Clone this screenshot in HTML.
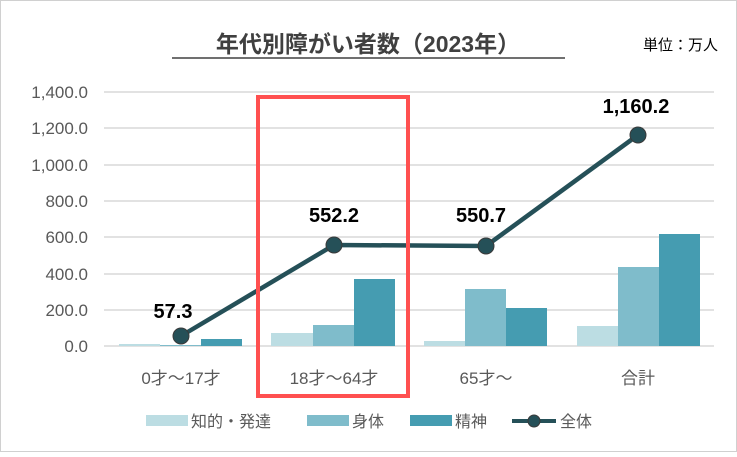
<!DOCTYPE html>
<html><head><meta charset="utf-8"><style>
body{margin:0;background:#fff}
text{font-family:"Liberation Sans","Noto Sans CJK JP",sans-serif}
</style></head><body>
<svg width="737" height="452" xmlns="http://www.w3.org/2000/svg">
<rect x="0.5" y="0.5" width="736" height="451" fill="#fff" stroke="#d0d0d0"/>
<text x="368" y="52" text-anchor="middle" font-size="23" font-weight="bold" fill="#404040">年代別障がい者数（2023年）</text>
<line x1="172" y1="58" x2="565" y2="58" stroke="#404040" stroke-width="1.5"/>
<text x="718" y="50" text-anchor="end" font-size="15" fill="#000">単位：万人</text>
<g stroke="#d9d9d9" stroke-width="1.5">
<line x1="104" x2="714" y1="92" y2="92"/><line x1="104" x2="714" y1="128" y2="128"/>
<line x1="104" x2="714" y1="165" y2="165"/><line x1="104" x2="714" y1="201" y2="201"/>
<line x1="104" x2="714" y1="237" y2="237"/><line x1="104" x2="714" y1="274" y2="274"/>
<line x1="104" x2="714" y1="310" y2="310"/><line x1="104" x2="714" y1="346" y2="346"/>
</g>
<g font-size="17" fill="#595959" text-anchor="end">
<text x="88" y="98">1,400.0</text><text x="88" y="134">1,200.0</text><text x="88" y="171">1,000.0</text>
<text x="88" y="207">800.0</text><text x="88" y="243">600.0</text><text x="88" y="280">400.0</text>
<text x="88" y="316">200.0</text><text x="88" y="352">0.0</text>
</g>
<g>
<rect x="119" y="344" width="41" height="2" fill="#bcdde3"/>
<rect x="160" y="345" width="41" height="1" fill="#7fbccb"/>
<rect x="201" y="339" width="41" height="7" fill="#459cb1"/>
<rect x="271" y="333" width="42" height="13" fill="#bcdde3"/>
<rect x="313" y="325" width="41" height="21" fill="#7fbccb"/>
<rect x="354" y="279" width="41" height="67" fill="#459cb1"/>
<rect x="424" y="341" width="41" height="5" fill="#bcdde3"/>
<rect x="465" y="289" width="41" height="57" fill="#7fbccb"/>
<rect x="506" y="308" width="41" height="38" fill="#459cb1"/>
<rect x="577" y="326" width="41" height="20" fill="#bcdde3"/>
<rect x="618" y="267" width="41" height="79" fill="#7fbccb"/>
<rect x="659" y="234" width="41" height="112" fill="#459cb1"/>
</g>
<polyline points="181,336 334,245 486,246 638,135" fill="none" stroke="#255058" stroke-width="4.5"/>
<g fill="#255058" stroke="#3a3a3a" stroke-width="1">
<circle cx="181" cy="336" r="8"/><circle cx="334" cy="245" r="8"/><circle cx="486" cy="246" r="8"/><circle cx="638" cy="135" r="8"/>
</g>
<g font-size="20" font-weight="bold" fill="#000" text-anchor="middle">
<text x="173" y="318">57.3</text><text x="334" y="222">552.2</text><text x="481" y="222">550.7</text><text x="636" y="113">1,160.2</text>
</g>
<rect x="258" y="97" width="150" height="299" fill="none" stroke="#ff5050" stroke-width="4"/>
<g font-size="17" fill="#595959" text-anchor="middle">
<text x="181" y="384">0才～17才</text><text x="334" y="384">18才～64才</text>
<text x="486" y="384">65才～</text><text x="638" y="384">合計</text>
</g>
<g font-size="16" fill="#595959">
<rect x="146" y="415" width="42" height="11" fill="#bcdde3"/><text x="191" y="427">知的・発達</text>
<rect x="307" y="415" width="42" height="11" fill="#7fbccb"/><text x="352" y="427">身体</text>
<rect x="410" y="415" width="42" height="11" fill="#459cb1"/><text x="455" y="427">精神</text>
<line x1="512" y1="421" x2="556" y2="421" stroke="#255058" stroke-width="4"/>
<circle cx="534" cy="421" r="6" fill="#255058" stroke="#3a3a3a"/><text x="560" y="427">全体</text>
</g>
</svg>
</body></html>
